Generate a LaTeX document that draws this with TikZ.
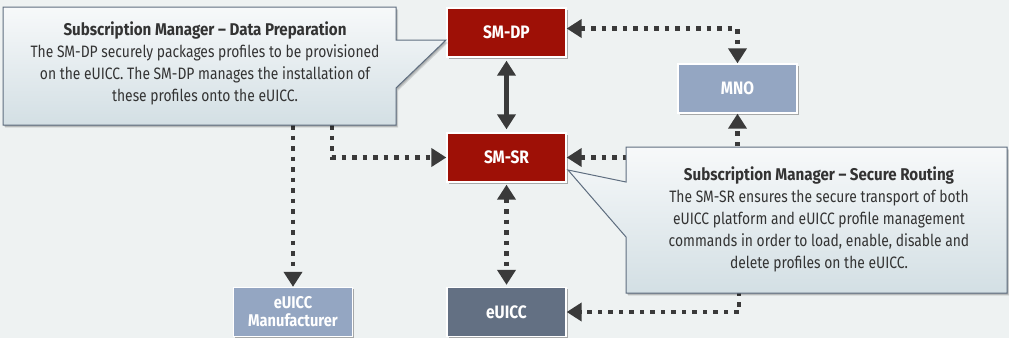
\documentclass[tikz,border=0pt]{standalone}
\usepackage{fontspec}
\setmainfont{Fira Sans}[FakeStretch=0.84]
\newfontfamily\titlefont{Fira Sans}[FakeStretch=0.89]
\newfontfamily\boxfont{Fira Sans}[FakeStretch=0.86]
\usetikzlibrary{arrows.meta,shadows}
\definecolor{bg}{HTML}{EEF2F2}
\definecolor{smred}{HTML}{9E1006}
\definecolor{mnoblue}{HTML}{94A6C2}
\definecolor{euslate}{HTML}{637083}
\definecolor{arrowgray}{HTML}{3A3A3A}
\definecolor{calltop}{HTML}{F7F9FA}
\definecolor{callbot}{HTML}{D3DFE4}
\definecolor{callborder}{HTML}{5F6E80}
\definecolor{txt}{HTML}{333333}
\tikzset{
  box/.style={draw=white, line width=1.3pt, minimum width=119pt, minimum height=49pt,
    text=white, font=\boxfont\bfseries\fontsize{18}{19}\selectfont, align=center, inner sep=0pt,
    drop shadow={shadow xshift=1.5pt, shadow yshift=-1.5pt, opacity=0.3, fill=black}},
  redbox/.style={box, fill=smred},
  bluebox/.style={box, fill=mnoblue},
  slatebox/.style={box, fill=euslate},
  dotline/.style={draw=arrowgray, line width=4.5pt, dash pattern=on 4.5pt off 6pt},
  dottip/.style={-{Triangle[width=18pt,length=15pt]}},
  dottips/.style={{Triangle[width=18pt,length=15pt]}-{Triangle[width=18pt,length=15pt]}},
  solidline/.style={draw=arrowgray, line width=5pt,
    {Triangle[width=18pt,length=15pt]}-{Triangle[width=18pt,length=15pt]}},
  callout/.style={top color=calltop, bottom color=callbot, draw=callborder, line width=1pt},
  calloutshadow/.style={fill=black, opacity=0.12},
  callouttext/.style={text=txt, align=center, font=\fontsize{16.5}{22}\selectfont, inner sep=0pt},
}
\newcommand{\ctitle}[1]{{\titlefont\bfseries\fontsize{17}{22}\selectfont #1}}
\begin{document}
\begin{tikzpicture}[x=1pt,y=-1pt]
\fill[bg] (0,0) rectangle (1009,338);
\useasboundingbox (0,0) rectangle (1009,338);

% nodes
\node[redbox] (dp) at (506.5,32.5) {SM-DP};
\node[redbox] (sr) at (506.5,157.5) {SM-SR};
\node[bluebox] (mno) at (737.5,88.5) {MNO};
\node[slatebox] (eu) at (506.5,312) {eUICC};
\node[bluebox, font=\boxfont\bfseries\fontsize{17}{18}\selectfont] (man) at (293,312) {eUICC\\Manufacturer};

% hidden starts behind callouts
\coordinate (c1a) at (293,125);
\coordinate (c1b) at (332,125);
\coordinate (c2a) at (739,260);

% connectors
\draw[solidline, shorten <=3pt, shorten >=3pt] (dp.south) -- (sr.north);
\draw[dotline, dottips] ([yshift=4pt]dp.east) -| (mno.north);
\draw[dotline, dottips] (sr.east) -| (mno.south);
\draw[dotline, dottip] (c2a) |- (eu.east);
\draw[dotline, dottip] (c1a) -- (man.north);
\draw[dotline, dottip] (c1b) |- (sr.west);
\draw[dotline, dottips, shorten <=2pt, shorten >=2pt] (sr.south) -- (eu.north);

% callout 1
\foreach \s in {1,2,3}{
  \fill[calloutshadow] ([shift={(\s*0.7,\s*0.9)}]3,7) -- ++(393,0) -- ++(0,33) -- ++(50,0) -- ++(-50,48) -- ++(0,37) -- ++(-393,0) -- cycle;
}
\shade[callout] (3,7) -- (396,7) -- (396,40) -- (446,40) -- (396,88) -- (396,125) -- (3,125) -- cycle;
\node[callouttext] (t1) at (205,63) {\ctitle{Subscription Manager – Data Preparation}\\
The SM-DP securely packages profiles to be provisioned\\
on the eUICC. The SM-DP manages the installation of\\
these profiles onto the eUICC.};

% callout 2
\foreach \s in {1,2,3}{
  \fill[calloutshadow] ([shift={(\s*0.7,\s*0.9)}]626,147) -- ++(381,0) -- ++(0,146) -- ++(-381,0) -- ++(0,-56) -- ++(-58,-67) -- ++(58,12) -- cycle;
}
\shade[callout] (626,147) -- (1007,147) -- (1007,293) -- (626,293) -- (626,237) -- (568,170) -- (626,182) -- cycle;
\node[callouttext] (t2) at (819,219) {\ctitle{Subscription Manager – Secure Routing}\\
The SM-SR ensures the secure transport of both\\
eUICC platform and eUICC profile management\\
commands in order to load, enable, disable and\\
delete profiles on the eUICC.};
\end{tikzpicture}
\end{document}
